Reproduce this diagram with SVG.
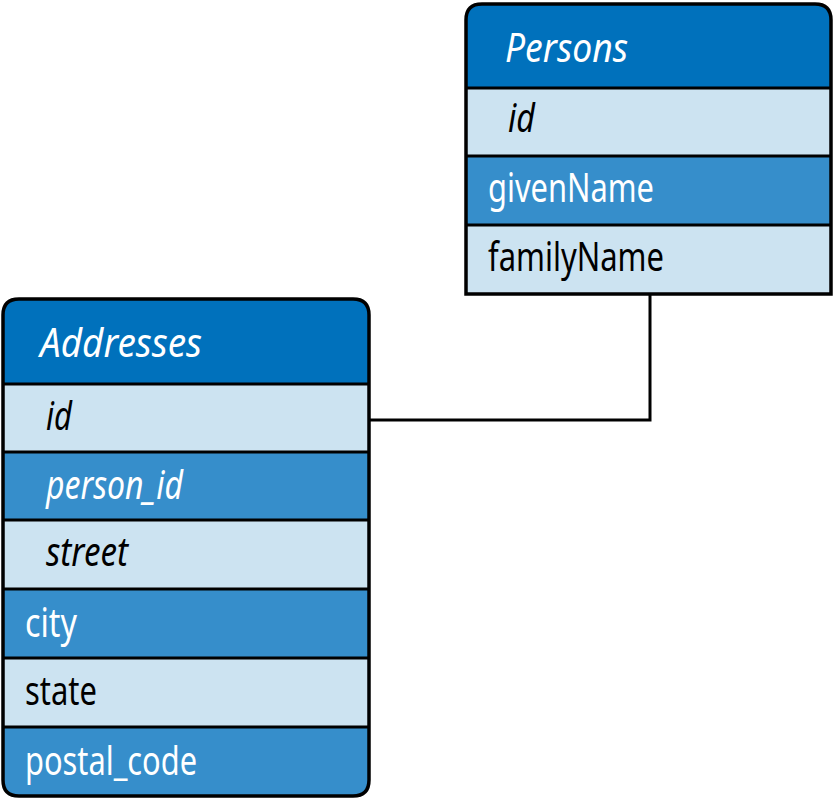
<svg xmlns="http://www.w3.org/2000/svg" width="836" height="798" viewBox="0 0 836 798">
<style>
.hdr{fill:#0071bc}
.dk{fill:#368ecb}
.lt{fill:#cce3f1}
.sep{stroke:#000;stroke-width:3;fill:none}
.frame{stroke:#000;stroke-width:3.5;fill:none}
text{font-family:"Noto Sans","Open Sans",sans-serif;font-size:40px}
.w{fill:#fff}
.b{fill:#000}
.i{font-style:italic}
</style>
<rect width="836" height="798" fill="#fff"/>
<g id="connectors">
<path d="M370 420 H650 V294" class="sep"/>
</g>
<g id="persons">
<path d="M466 88 V20 Q466 4 482 4 H815 Q831 4 831 20 V88 Z" class="hdr"/>
<rect x="466" y="88" width="365" height="68" class="lt"/>
<rect x="466" y="156" width="365" height="69" class="dk"/>
<rect x="466" y="225" width="365" height="69" class="lt"/>
<path d="M466 88 H831 M466 156 H831 M466 225 H831" class="sep"/>
<path d="M466 294 V20 Q466 4 482 4 H815 Q831 4 831 20 V294 Z" class="frame"/>
<text x="505" y="62" class="w i" textLength="123" lengthAdjust="spacingAndGlyphs">Persons</text>
<text x="508" y="132" class="b i" textLength="27" lengthAdjust="spacingAndGlyphs">id</text>
<text x="488" y="202" class="w" textLength="166" lengthAdjust="spacingAndGlyphs">givenName</text>
<text x="488" y="271" class="b" textLength="176" lengthAdjust="spacingAndGlyphs">familyName</text>
</g>
<g id="addresses">
<path d="M3 384 V315 Q3 299 19 299 H353 Q369 299 369 315 V384 Z" class="hdr"/>
<rect x="3" y="384" width="366" height="68" class="lt"/>
<rect x="3" y="452" width="366" height="68" class="dk"/>
<rect x="3" y="520" width="366" height="69" class="lt"/>
<rect x="3" y="589" width="366" height="69" class="dk"/>
<rect x="3" y="658" width="366" height="69" class="lt"/>
<path d="M3 727 H369 V780 Q369 796 353 796 H19 Q3 796 3 780 Z" class="dk"/>
<path d="M3 384 H369 M3 452 H369 M3 520 H369 M3 589 H369 M3 658 H369 M3 727 H369" class="sep"/>
<path d="M3 315 Q3 299 19 299 H353 Q369 299 369 315 V780 Q369 796 353 796 H19 Q3 796 3 780 Z" class="frame"/>
<text x="40" y="357" class="w i" textLength="162" lengthAdjust="spacingAndGlyphs">Addresses</text>
<text x="46" y="430" class="b i" textLength="26" lengthAdjust="spacingAndGlyphs">id</text>
<text x="46" y="499" class="w i" textLength="137" lengthAdjust="spacingAndGlyphs">person_id</text>
<text x="46" y="566" class="b i" textLength="82" lengthAdjust="spacingAndGlyphs">street</text>
<text x="25" y="637" class="w" textLength="52" lengthAdjust="spacingAndGlyphs">city</text>
<text x="25" y="705" class="b" textLength="72" lengthAdjust="spacingAndGlyphs">state</text>
<text x="25" y="775" class="w" textLength="172" lengthAdjust="spacingAndGlyphs">postal_code</text>
</g>
</svg>
